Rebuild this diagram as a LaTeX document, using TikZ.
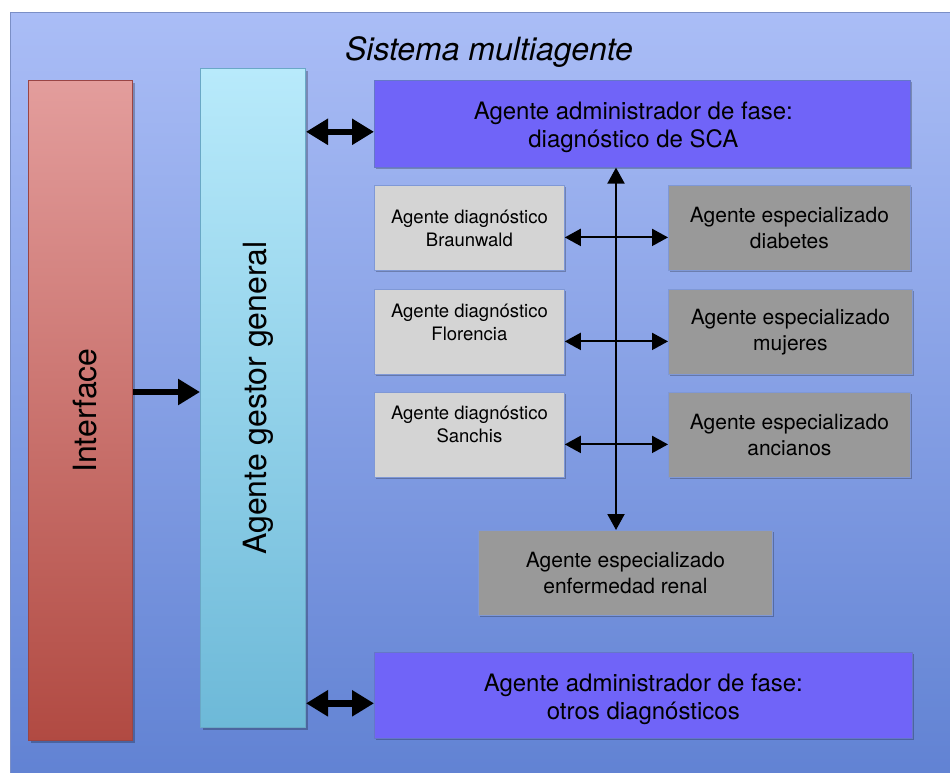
\documentclass[tikz,border=0pt]{standalone}
\usepackage{fontspec}
\setmainfont{TeX Gyre Heros}
\usetikzlibrary{arrows.meta,shadows,calc}
\definecolor{bgtop}{HTML}{AABDF6}
\definecolor{bgbot}{HTML}{6182D3}
\definecolor{bgline}{HTML}{7B8FC6}
\definecolor{iftop}{HTML}{E39D9C}
\definecolor{ifbot}{HTML}{B14A42}
\definecolor{ifline}{HTML}{9A4545}
\definecolor{ggtop}{HTML}{B8EAFB}
\definecolor{ggbot}{HTML}{6DB9D8}
\definecolor{ggline}{HTML}{6AA8C6}
\definecolor{fase}{HTML}{7064F8}
\definecolor{faseline}{HTML}{6577C8}
\definecolor{diag}{HTML}{D4D4D4}
\definecolor{spec}{HTML}{999999}
\definecolor{boxline}{HTML}{7F98D6}
\begin{document}
\begin{tikzpicture}[x=1pt,y=-1pt,
  shad/.style={drop shadow={shadow xshift=2pt,shadow yshift=-2pt,opacity=0.25,fill=black}},
  base/.style={anchor=north west,inner sep=0pt,align=center,shad},
  fasebox/.style={base,fill=fase,draw=faseline,line width=0.6pt},
  fasetext/.style={yshift=-4pt,align=center,font=\fontsize{24}{28}\selectfont},
  diagbox/.style={base,fill=diag,draw=boxline,line width=0.8pt,font=\fontsize{18.5}{23}\selectfont},
  diagtext/.style={yshift=10pt,align=center,font=\fontsize{18.5}{23}\selectfont},
  specbox/.style={base,fill=spec,draw=boxline,line width=0.8pt,font=\fontsize{21}{25.5}\selectfont},
  bigtext/.style={font=\fontsize{32}{38}\selectfont},
  thickarrow/.style={line width=6.5pt,{Triangle[length=22pt,width=25pt]}-{Triangle[length=22pt,width=25pt]}},
  onearrow/.style={line width=6.5pt,-{Triangle[length=22pt,width=25pt]}},
  thinarrow/.style={line width=2pt,{Triangle[length=16pt,width=17pt]}-{Triangle[length=16pt,width=17pt]}}
]
\useasboundingbox (0,0) rectangle (950,772);
\clip (0,0) rectangle (950,772);
\fill[white] (0,0) rectangle (950,772);
\node[anchor=north west,inner sep=0pt,minimum width=945pt,minimum height=765pt,
  top color=bgtop,bottom color=bgbot,draw=bgline,line width=1pt] (outer) at (10,12) {};
\node[font=\fontsize{32}{38}\selectfont\itshape] (title) at (489,52) {Sistema multiagente};

\node[base,minimum width=104pt,minimum height=660pt,top color=iftop,bottom color=ifbot,draw=ifline,line width=1pt,
  label={[xshift=5pt,rotate=90,bigtext]center:Interface}] (iface) at (28,80) {};
\node[base,minimum width=105pt,minimum height=659pt,top color=ggtop,bottom color=ggbot,draw=ggline,line width=1pt,
  label={[xshift=5pt,rotate=90,bigtext]center:Agente gestor general}] (gestor) at (200,68) {};

\node[fasebox,minimum width=536pt,minimum height=87pt,
  label={[fasetext,xshift=-9pt]center:Agente administrador de fase:\\diagnóstico de SCA}] (fasesca) at (374,80) {};
\node[fasebox,minimum width=538pt,minimum height=86pt,
  label={[fasetext]center:Agente administrador de fase:\\otros diagnósticos}] (faseotros) at (374,652) {};

\node[diagbox,minimum width=190pt,minimum height=85pt] (braun) at (374,185) {Agente diagnóstico\\Braunwald};
\node[diagbox,minimum width=190pt,minimum height=85pt,
  label={[diagtext]center:Agente diagnóstico\\Florencia}] (flor) at (374,289) {};
\node[diagbox,minimum width=190pt,minimum height=85pt,
  label={[diagtext]center:Agente diagnóstico\\Sanchis}] (sanch) at (374,392) {};

\node[specbox,minimum width=242pt,minimum height=85pt] (diab) at (668,185) {Agente especializado\\diabetes};
\node[specbox,minimum width=244pt,minimum height=85pt] (muj) at (668,289) {Agente especializado\\mujeres};
\node[specbox,minimum width=242pt,minimum height=85pt] (anc) at (668,392) {Agente especializado\\ancianos};
\node[specbox,minimum width=294pt,minimum height=85pt] (renal) at (478,530) {Agente especializado\\enfermedad renal};

\coordinate (vx) at (616,0);
\coordinate (ifarrow) at (0,392);
\draw[thinarrow] (fasesca.south -| vx) -- (renal.north -| vx);
\draw[thinarrow] ([yshift=-9.5pt]braun.east) -- ([yshift=-9.5pt]braun.east -| diab.west);
\draw[thinarrow] ([yshift=-9.5pt]flor.east) -- ([yshift=-9.5pt]flor.east -| muj.west);
\draw[thinarrow] ([yshift=-9.5pt]sanch.east) -- ([yshift=-9.5pt]sanch.east -| anc.west);

\draw[thickarrow] ([yshift=-8pt]fasesca.west -| gestor.east) -- ([yshift=-8pt]fasesca.west);
\draw[thickarrow] ([yshift=-8pt]faseotros.west -| gestor.east) -- ([yshift=-8pt]faseotros.west);
\draw[onearrow] (ifarrow -| iface.east) -- (ifarrow -| gestor.west);
\end{tikzpicture}
\end{document}
